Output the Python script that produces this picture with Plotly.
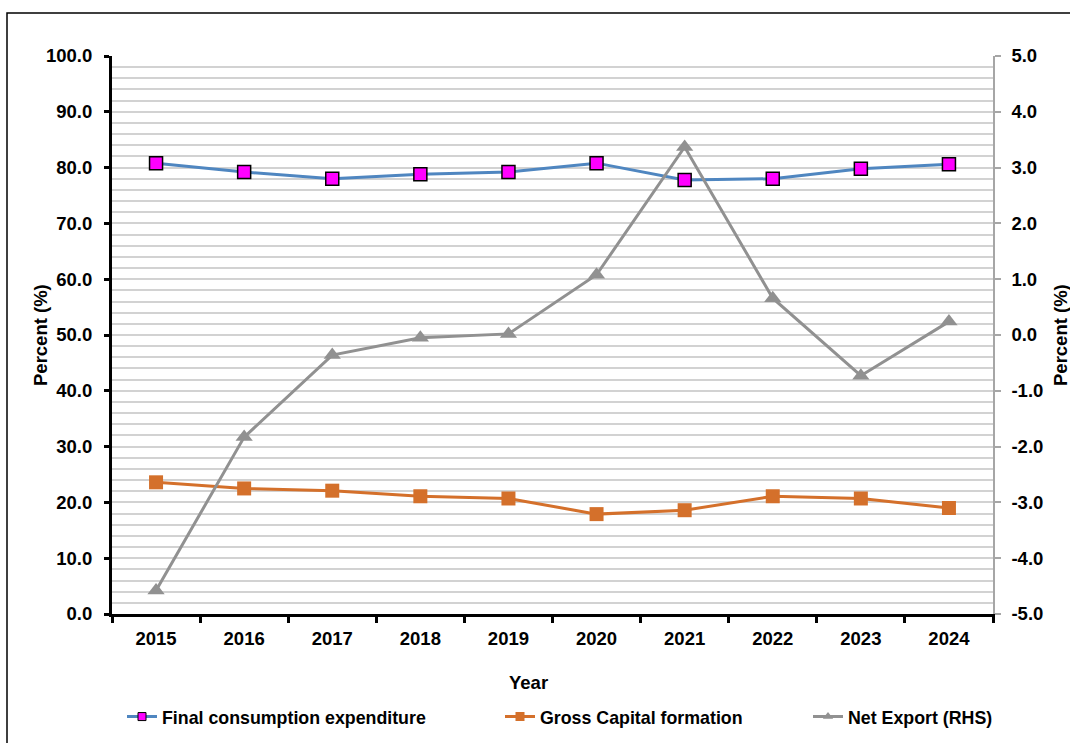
import plotly.graph_objects as go

years = ["2015", "2016", "2017", "2018", "2019", "2020", "2021", "2022", "2023", "2024"]
final_consumption = [80.8, 79.2, 78.0, 78.8, 79.2, 80.8, 77.8, 78.0, 79.8, 80.6]
gross_capital = [23.6, 22.5, 22.1, 21.1, 20.7, 17.9, 18.6, 21.1, 20.7, 19.0]
net_export = [-4.58, -1.83, -0.36, -0.05, 0.02, 1.08, 3.37, 0.66, -0.73, 0.24]

left_tickvals = [0, 10, 20, 30, 40, 50, 60, 70, 80, 90, 100]
left_ticktext = ["0.0", "10.0", "20.0", "30.0", "40.0", "50.0", "60.0", "70.0", "80.0", "90.0", "100.0"]
right_tickvals = [-5, -4, -3, -2, -1, 0, 1, 2, 3, 4, 5]
right_ticktext = ["-5.0", "-4.0", "-3.0", "-2.0", "-1.0", "0.0", "1.0", "2.0", "3.0", "4.0", "5.0"]

FONT = "Liberation Sans, Arial, sans-serif"
bold = dict(family=FONT, size=18.5, color="black", weight="bold")
legend_font = dict(family=FONT, size=17.8, color="black", weight="bold")

W, H = 1070, 743
# plot area in picture pixels
PL, PR, PT, PB = 112, 993, 56, 614
L, T = PL, PT
R, B = W - PR, H - PB
pw, ph = PR - PL, PB - PT


def px(x):
    return (x - PL) / pw


def py(y):
    return (PB - y) / ph


FCE_LINE, FCE_MARK = "#4F86C0", "#FF00FF"
GCF_COL = "#D4702B"
NX_COL = "#919191"

fig = go.Figure()
fig.add_trace(go.Scatter(
    x=years, y=final_consumption, name="Final consumption expenditure",
    mode="lines+markers", showlegend=False,
    line=dict(color=FCE_LINE, width=3),
    marker=dict(symbol="square", size=13, color=FCE_MARK, line=dict(color="black", width=1.5)),
))
fig.add_trace(go.Scatter(
    x=years, y=gross_capital, name="Gross Capital formation",
    mode="lines+markers", showlegend=False,
    line=dict(color=GCF_COL, width=3),
    marker=dict(symbol="square", size=14, color=GCF_COL),
))
fig.add_trace(go.Scatter(
    x=years, y=net_export, name="Net Export (RHS)", yaxis="y2",
    mode="lines+markers", showlegend=False,
    line=dict(color=NX_COL, width=3),
    marker=dict(symbol="triangle-up", size=15, color=NX_COL),
))
# legend entries with smaller symbols, as in the reference (one legend each for exact placement)
fig.add_trace(go.Scatter(
    x=[None], y=[None], name="Final consumption expenditure", mode="lines+markers",
    legend="legend",
    line=dict(color=FCE_LINE, width=3),
    marker=dict(symbol="square", size=8, color=FCE_MARK, line=dict(color="black", width=1)),
))
fig.add_trace(go.Scatter(
    x=[None], y=[None], name="Gross Capital formation", mode="lines+markers",
    legend="legend2",
    line=dict(color=GCF_COL, width=3),
    marker=dict(symbol="square", size=9, color=GCF_COL),
))
fig.add_trace(go.Scatter(
    x=[None], y=[None], name="Net Export (RHS)", mode="lines+markers", yaxis="y2",
    legend="legend3",
    line=dict(color=NX_COL, width=3),
    marker=dict(symbol="triangle-up", size=9, color=NX_COL),
))


def leg(x_text):
    return dict(orientation="h", xref="container", yref="container",
                x=(x_text - 40) / W, xanchor="left", y=(H - 717) / H, yanchor="middle",
                font=legend_font, bgcolor="rgba(0,0,0,0)")


fig.update_layout(
    width=W, height=H,
    margin=dict(l=L, r=R, t=T, b=B, autoexpand=False),
    paper_bgcolor="white", plot_bgcolor="white",
    font=bold,
    showlegend=True,
    legend=leg(162), legend2=leg(540), legend3=leg(848),
    xaxis=dict(
        type="category", range=[-0.5, 9.5],
        showline=True, linecolor="black", linewidth=3,
        ticks="outside", tickson="boundaries", ticklen=6, tickwidth=3, tickcolor="black",
        ticklabelstandoff=6, showgrid=False, zeroline=False, tickfont=bold,
    ),
    yaxis=dict(
        range=[0, 100], tickvals=left_tickvals, ticktext=left_ticktext,
        showline=True, linecolor="black", linewidth=3,
        ticks="outside", ticklen=5, tickwidth=3, tickcolor="black",
        ticklabelstandoff=8,
        showgrid=True, gridcolor="#D2D2D2", gridwidth=1.5,
        minor=dict(dtick=2, showgrid=True, gridcolor="#D2D2D2", gridwidth=1.5, ticks=""),
        zeroline=False, tickfont=bold,
    ),
    yaxis2=dict(
        range=[-5, 5], tickvals=right_tickvals, ticktext=right_ticktext,
        overlaying="y", side="right",
        showline=True, linecolor="#A6A6A6", linewidth=1.5,
        ticks="outside", ticklen=6, tickwidth=1.5, tickcolor="#A6A6A6",
        ticklabelstandoff=7,
        showgrid=False, zeroline=False, tickfont=bold,
    ),
    shapes=[dict(type="rect", xref="paper", yref="paper",
                 x0=px(7), x1=px(1100), y0=py(770), y1=py(13),
                 line=dict(color="black", width=1.5), fillcolor="rgba(0,0,0,0)", layer="below")],
    annotations=[
        dict(text="Percent (%)", xref="paper", yref="paper", x=px(40), y=0.5,
             textangle=-90, showarrow=False, font=bold, xanchor="center", yanchor="middle"),
        dict(text="Percent (%)", xref="paper", yref="paper", x=px(1060), y=0.5,
             textangle=-90, showarrow=False, font=bold, xanchor="center", yanchor="middle"),
        dict(text="Year", xref="paper", yref="paper", x=px(528), y=py(683),
             showarrow=False, font=bold, xanchor="center", yanchor="middle"),
    ],
)

fig.write_html(
    "out.html",
    config={"displayModeBar": False},
    post_script="document.body.style.margin='0';document.body.style.overflow='hidden';",
)
